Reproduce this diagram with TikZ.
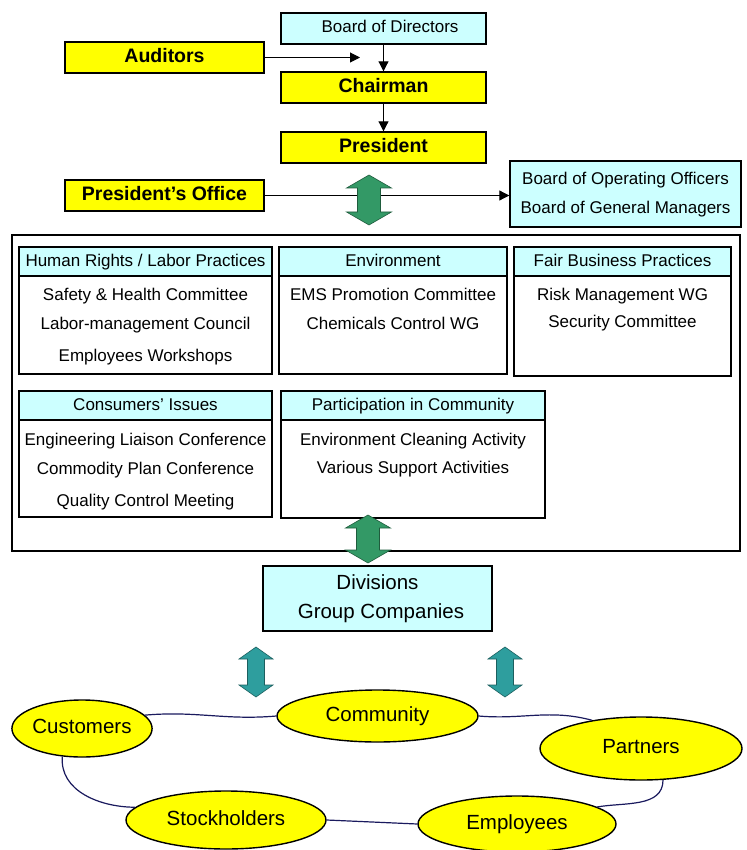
\documentclass[tikz,border=0pt]{standalone}
\usepackage{fontspec}
\setmainfont{Liberation Sans}
\usetikzlibrary{shapes.geometric,arrows.meta}
\definecolor{boxcyan}{HTML}{CCFFFF}
\definecolor{boxyellow}{HTML}{FFFF00}
\definecolor{arrgreen}{HTML}{339966}
\definecolor{arrteal}{HTML}{2E9E9E}
\definecolor{ringblue}{HTML}{1A1A5E}
\newcommand\dblarr[7]{%
  \filldraw[fill=#7,draw=#7!60!black,line width=0.6pt]
    (#1,#2) -- ({#1+#5},{#2+#6}) -- ({#1+#4},{#2+#6}) -- ({#1+#4},{#3-#6})
    -- ({#1+#5},{#3-#6}) -- (#1,#3) -- ({#1-#5},{#3-#6}) -- ({#1-#4},{#3-#6})
    -- ({#1-#4},{#2+#6}) -- ({#1-#5},{#2+#6}) -- cycle;}
\begin{document}
\begin{tikzpicture}[x=1pt,y=-1pt,
  txt/.style={font=\fontsize{17}{20}\selectfont, text height=1em, text depth=0pt, inner sep=0pt},
  boldtxt/.style={font=\fontsize{19.5}{22}\selectfont\bfseries, text height=1em, text depth=0pt, inner sep=0pt},
  bigtxt/.style={font=\fontsize{20.5}{24}\selectfont, text height=1em, text depth=0pt, inner sep=0pt},
  frame/.style={draw, line width=1.4pt},
  ybox/.style={frame, fill=boxyellow, minimum height=31pt, minimum width=#1},
  cbox/.style={frame, fill=boxcyan},
  panel/.style={frame, fill=white},
  hdr/.style={frame, fill=boxcyan, minimum height=29pt},
  oval/.style={ellipse, draw, line width=1.4pt, fill=boxyellow, inner sep=0pt},
  arr/.style={line width=1pt, -{Triangle[length=10pt,width=10pt]}},
  ringline/.style={draw=ringblue, line width=1.2pt}
]
\useasboundingbox (0,0) rectangle (746,850);
\fill[white] (0,0) rectangle (746,850);

% top boxes
\node[cbox, minimum width=205pt, minimum height=31pt] (bod) at (383.5,28.5) {};
\node[txt] (bodt) at (390,28) {Board of Directors};
\node[ybox=199pt, boldtxt] (aud) at (164.5,57.5) {Auditors};
\node[ybox=205pt, boldtxt] (chair) at (383.5,87.5) {Chairman};
\node[ybox=205pt, boldtxt] (pres) at (383.5,147.5) {President};
\node[ybox=199pt, boldtxt] (poff) at (164.5,195.5) {President's Office};
\node[cbox, minimum width=231pt, minimum height=66pt] (boo) at (625.5,194) {};
\node[txt] (boo1) at (625.5,180) {Board of Operating Officers};
\node[txt] (boo2) at (625.5,209) {Board of General Managers};

\coordinate (audend) at (360,57.5);
\draw[arr] (aud.east) -- (audend);
\draw[arr] (bod.south) -- (chair.north);
\draw[arr] (chair.south) -- (pres.north);
\draw[arr] (poff.east) -- (poff.east -| boo.west);

% outer frame
\node[frame, minimum width=728pt, minimum height=316pt] (outer) at (376,393) {};

% panels
\node[panel, minimum width=253pt, minimum height=127pt] (hr) at (145.5,310.5) {};
\node[hdr, minimum width=253pt, anchor=north] (hrh) at (hr.north) {};
\node[txt] (hrht) at (hrh.center) {Human Rights / Labor Practices};
\node[txt] (hr1) at (145.5,295) {Safety \& Health Committee};
\node[txt] (hr2) at (145.5,324) {Labor-management Council};
\node[txt] (hr3) at (145.5,356) {Employees Workshops};

\node[panel, minimum width=228pt, minimum height=127pt] (env) at (393,310.5) {};
\node[hdr, minimum width=228pt, anchor=north] (envh) at (env.north) {};
\node[txt] (envht) at (envh.center) {Environment};
\node[txt] (env1) at (393,295) {EMS Promotion Committee};
\node[txt] (env2) at (393,324) {Chemicals Control WG};

\node[panel, minimum width=217pt, minimum height=129pt] (fair) at (622.5,311.5) {};
\node[hdr, minimum width=217pt, anchor=north] (fairh) at (fair.north) {};
\node[txt] (fairht) at (fairh.center) {Fair Business Practices};
\node[txt] (fair1) at (622.5,295) {Risk Management WG};
\node[txt] (fair2) at (622.5,322) {Security Committee};

\node[panel, minimum width=253pt, minimum height=126pt] (cons) at (145.5,454) {};
\node[hdr, minimum width=253pt, anchor=north] (consh) at (cons.north) {};
\node[txt] (consht) at (consh.center) {Consumers' Issues};
\node[txt] (cons1) at (145.5,440) {Engineering Liaison Conference};
\node[txt] (cons2) at (145.5,469) {Commodity Plan Conference};
\node[txt] (cons3) at (145.5,501) {Quality Control Meeting};

\node[panel, minimum width=264pt, minimum height=127pt] (part) at (413,454.5) {};
\node[hdr, minimum width=264pt, anchor=north] (parth) at (part.north) {};
\node[txt] (partht) at (parth.center) {Participation in Community};
\node[txt] (part1) at (413,440) {Environment Cleaning Activity};
\node[txt] (part2) at (413,468) {Various Support Activities};

% divisions
\node[cbox, minimum width=229pt, minimum height=65pt] (div) at (377.5,598.5) {};
\node[bigtxt] (div1) at (377.5,584) {Divisions};
\node[bigtxt] (div2) at (381,613) {Group Companies};

% double arrows
\dblarr{369}{175}{225}{11.5}{22.5}{13}{arrgreen}
\dblarr{368}{515}{563}{11.5}{22.5}{13}{arrgreen}
\dblarr{256}{647}{697}{8.5}{17}{12}{arrteal}
\dblarr{505}{647}{697}{8.5}{17}{12}{arrteal}

% stakeholder ring
\node[oval, minimum width=140pt, minimum height=57pt, bigtxt] (cust) at (82,728.5) {Customers};
\node[oval, minimum width=201pt, minimum height=52pt, bigtxt] (comm) at (377.5,716) {Community};
\node[oval, minimum width=202pt, minimum height=63pt, bigtxt] (partn) at (641,748.5) {Partners};
\node[oval, minimum width=200pt, minimum height=58pt, bigtxt] (stock) at (226,820) {Stockholders};
\node[oval, minimum width=198pt, minimum height=56pt, bigtxt] (emp) at (517,824) {Employees};

\draw[ringline] (cust.12) to[out=5,in=185] (comm.west);
\draw[ringline] (comm.east) to[out=-5,in=165] (partn.150);
\draw[ringline] (partn.-55) to[out=-90,in=10] (emp.12);
\draw[ringline] (emp.west) -- (stock.east);
\draw[ringline] (stock.172) to[out=180,in=-95] (cust.-125);
\end{tikzpicture}
\end{document}
